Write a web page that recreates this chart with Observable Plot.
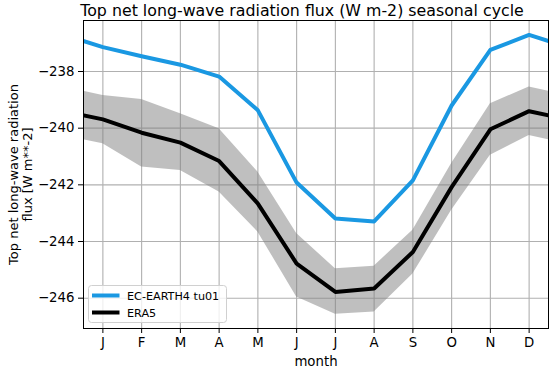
<!DOCTYPE html>
<html>
<head>
<meta charset="utf-8">
<script src="https://cdn.jsdelivr.net/npm/d3@7"></script>
<script src="https://cdn.jsdelivr.net/npm/@observablehq/plot@0.6"></script>
<style>
  html, body { margin: 0; padding: 0; background: #fff; }
  #chart svg { font-family: "DejaVu Sans", sans-serif; }
</style>
</head>
<body>
<div id="chart"></div>
<script>
// ---- data ----
const monthLabels = ["J","F","M","A","M","J","J","A","S","O","N","D"];
const monthNumbers = [1,2,3,4,5,6,7,8,9,10,11,12];
const ecEarth = [-237.14, -237.46, -237.76, -238.18, -239.37, -241.92, -243.19, -243.29, -241.84, -239.20, -237.24, -236.71];
const era5    = [-239.69, -240.16, -240.51, -241.16, -242.66, -244.78, -245.78, -245.66, -244.37, -242.08, -240.04, -239.40];
const era5Hi  = [-238.85, -238.99, -239.49, -240.02, -241.55, -243.72, -244.96, -244.87, -243.60, -241.25, -239.14, -238.55];
const era5Lo  = [-240.55, -241.37, -241.49, -242.25, -243.66, -245.96, -246.57, -246.49, -245.15, -242.90, -240.96, -240.26];
const yTicks = [-246, -244, -242, -240, -238];
const seriesNames = ["EC-EARTH4 tu01", "ERA5"];
const seriesColors = ["#1a98e2", "#000000"];

// cyclic table: December repeated before January, January repeated after December
const idx = [11, 0,1,2,3,4,5,6,7,8,9,10,11, 0];
const table = idx.map((k, j) => ({
  m: j,
  ec: ecEarth[k], era: era5[k], hi: era5Hi[k], lo: era5Lo[k]
}));

const W = 549, H = 369;
const mL = 83, mR = 1, mT = 20, mB = 41;
const monthFmt = d => monthLabels[d - 1];

const chart = Plot.plot({
  width: W, height: H,
  marginLeft: mL, marginRight: mR, marginTop: mT, marginBottom: mB,
  style: {fontFamily: "DejaVu Sans, sans-serif", fontSize: "13px", color: "#000", background: "#fff"},
  x: {domain: [0.5, 12.5], ticks: monthNumbers, tickFormat: monthFmt},
  y: {domain: [-247.07, -236.2], ticks: yTicks, tickFormat: d3.format("d")},
  marks: [
    Plot.gridX(monthNumbers, {stroke: "#b0b0b0", strokeOpacity: 1, strokeWidth: 1.1}),
    Plot.gridY(yTicks, {stroke: "#b0b0b0", strokeOpacity: 1, strokeWidth: 1.1}),
    Plot.areaY(table, {x: "m", y1: "lo", y2: "hi", fill: "#808080", fillOpacity: 0.5, clip: true}),
    Plot.lineY(table, {x: "m", y: "era", stroke: seriesColors[1], strokeWidth: 4, clip: true}),
    Plot.lineY(table, {x: "m", y: "ec", stroke: seriesColors[0], strokeWidth: 4, clip: true}),
    Plot.frame({stroke: "#000", strokeWidth: 1}),
    Plot.axisX({ticks: monthNumbers, tickFormat: monthFmt, tickSize: 5, tickPadding: 4, fontSize: 13.3, label: null}),
    Plot.axisY({ticks: yTicks, tickFormat: d3.format("d"), tickSize: 5, tickPadding: 4, fontSize: 13.3, label: null}),
    Plot.text(["month"], {frameAnchor: "bottom", dy: 33.5, fontSize: 13.3, lineAnchor: "middle", textAnchor: "middle"}),
    Plot.text(["Top net long-wave radiation flux (W m-2) seasonal cycle"],
      {frameAnchor: "top", dx: -14, dy: -10, fontSize: 15.8, lineAnchor: "middle", textAnchor: "middle"}),
    Plot.text(["Top net long-wave radiation\nflux [W m**-2]"],
      {frameAnchor: "left", dx: -63.3, rotate: -90, fontSize: 13, textAnchor: "middle", lineAnchor: "middle", lineHeight: 1.1})
  ]
});

// legend (lower left)
const svg = d3.select(chart);
const lg = svg.append("g").attr("transform", `translate(88.5,285.5)`)
  .attr("text-anchor", "start");
lg.append("rect").attr("width", 138).attr("height", 37).attr("rx", 3)
  .attr("fill", "#fff").attr("fill-opacity", 0.8).attr("stroke", "#d0d0d0");
seriesNames.forEach((name, i) => {
  const y = 10 + i * 17;
  lg.append("line").attr("x1", 3.5).attr("x2", 31).attr("y1", y).attr("y2", y)
    .attr("stroke", seriesColors[i]).attr("stroke-width", 4);
  lg.append("text").attr("x", 38.5).attr("y", y).attr("dy", "0.36em")
    .attr("text-anchor", "start")
    .attr("font-size", 11.2).attr("fill", "#000").text(name);
});

document.getElementById("chart").appendChild(chart);
</script>
</body>
</html>
